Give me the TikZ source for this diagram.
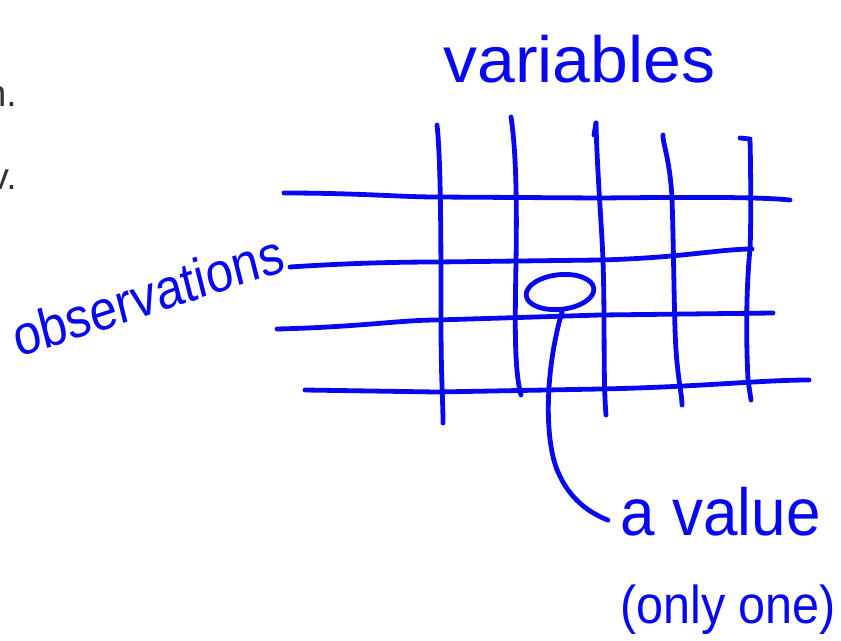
\documentclass[tikz,border=0pt]{standalone}
\usepackage{fontspec}
\setmainfont{Liberation Sans}
\usetikzlibrary{shapes.geometric,calc}
\definecolor{ink}{RGB}{8,8,240}
\definecolor{slidegray}{RGB}{50,50,50}
\tikzset{
  pen/.style={draw=ink,line width=3.6pt,line cap=round,line join=round},
  hand/.style={text=ink,inner sep=0pt,anchor=base west},
  slide/.style={text=slidegray,inner sep=0pt,anchor=base east,font=\fontsize{28}{30}\selectfont}
}
\begin{document}
\begin{tikzpicture}[x=0.75pt,y=-0.75pt]
\useasboundingbox (0,0) rectangle (841,640);
\clip (0,0) rectangle (841,640);
% cut-off slide text
\node[slide] (s1) at (17,106) {n.};
\node[slide] (s2) at (17,189) {v.};
% grid: horizontal lines
\draw[pen] (284,193) .. controls (360,193) and (400,197) .. (437,197) -- (600,198) .. controls (700,197) and (760,197) .. (790,200);
\draw[pen] (290,267) .. controls (350,263) and (400,262) .. (437,262) -- (600,260) .. controls (680,258) and (720,249) .. (752,249);
\draw[pen] (277,329) .. controls (360,327) and (400,320) .. (437,320) -- (600,315) -- (773,313);
\draw[pen] (305,390) -- (437,392) -- (600,389) .. controls (700,387) and (760,380) .. (809,380);
% grid: vertical lines
\draw[pen] (437,125) .. controls (441,160) and (441,250) .. (441,320) .. controls (441,380) and (443,400) .. (443,423);
\draw[pen] (511,117) .. controls (516,150) and (517,200) .. (516,262) .. controls (515,320) and (514,370) .. (521,395);
\draw[pen] (596,123) -- (594,135);
\draw[pen] (596,123) .. controls (597,170) and (602,230) .. (603,261) .. controls (605,320) and (603,380) .. (606,415);
\draw[pen] (663,135) .. controls (662,140) and (670,160) .. (672,198) .. controls (674,260) and (674,320) .. (676,350) .. controls (678,380) and (682,395) .. (682,405);
\draw[pen] (740,138) -- (750,139) .. controls (751,180) and (751,230) .. (750,249) .. controls (746,290) and (746,340) .. (748,380) -- (751,400);
% the circled value
\node[ellipse,pen,minimum width=51pt,minimum height=26pt,inner sep=0pt,rotate=6] (cell) at (560,292) {};
% labels
\node[hand,font=\fontsize{49}{52}\selectfont,xscale=1.04] (vars) at (443,82) {variables};
\node[hand,font=\fontsize{42}{46}\selectfont,xscale=0.88,rotate=16] (obs) at (18,358) {observations};
\node[hand,font=\fontsize{50}{54}\selectfont,xscale=0.93,inner xsep=10pt] (val) at (608,535) {a value};
\node[hand,font=\fontsize{40}{44}\selectfont,xscale=0.91] (one) at (620,623) {(only one)};
% connector
\draw[pen] (cell.south) .. controls (545,370) and (544,440) .. (558,472) .. controls (570,500) and (590,513) .. ($(val.west)+(0,9)$);
\end{tikzpicture}
\end{document}
